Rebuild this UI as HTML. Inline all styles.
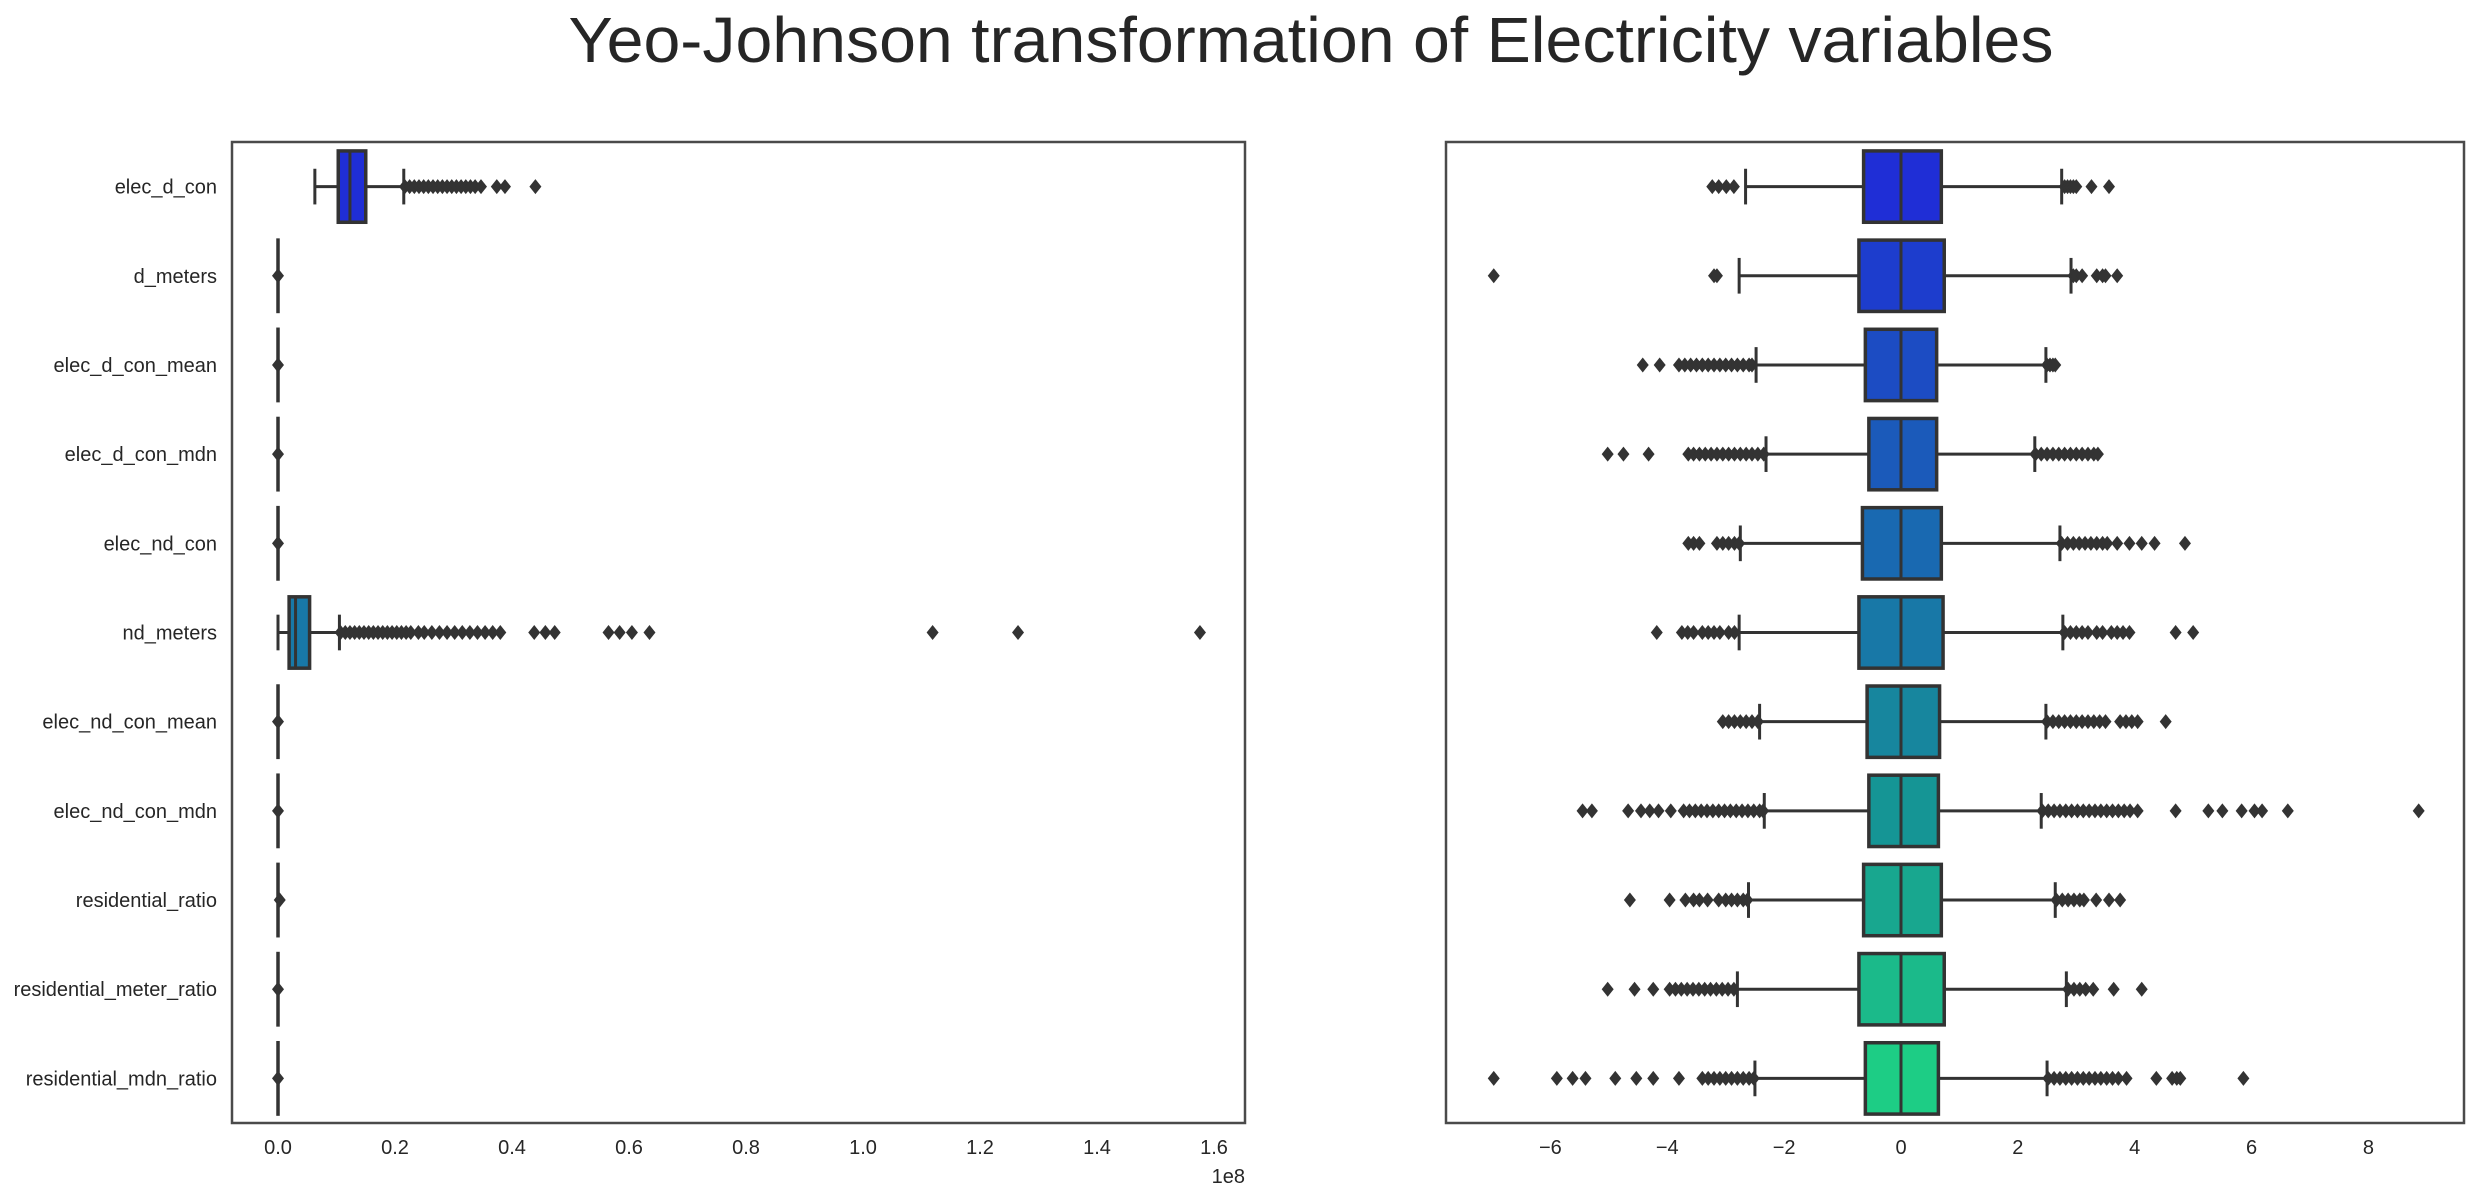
<!DOCTYPE html>
<html><head><meta charset="utf-8">
<style>
html,body{margin:0;padding:0;background:#fff;}
svg{display:block;font-family:"Liberation Sans",Arial,sans-serif;}
</style></head>
<body>
<svg id="fig" width="2478" height="1194" viewBox="0 0 2478 1194" xmlns="http://www.w3.org/2000/svg">
<rect x="0" y="0" width="2478" height="1194" fill="#fff"/>
<text x="1311" y="62" font-size="64" text-anchor="middle" fill="#262626" textLength="1485" lengthAdjust="spacingAndGlyphs">Yeo-Johnson transformation of Electricity variables</text>
<g id="left"></g>
<g id="right"></g>
</svg>
<script>
const categories = ["elec_d_con","d_meters","elec_d_con_mean","elec_d_con_mdn","elec_nd_con","nd_meters","elec_nd_con_mean","elec_nd_con_mdn","residential_ratio","residential_meter_ratio","residential_mdn_ratio"];

// Left panel (raw, units of 1e8): [whiskerLow, q1, median, q3, whiskerHigh]
const leftStats = [
  [0.063,0.103,0.123,0.150,0.215],
  [0,0,0,0,0],[0,0,0,0,0],[0,0,0,0,0],[0,0,0,0,0],
  [0,0.019,0.030,0.054,0.105],
  [0,0,0,0,0],[0,0,0,0,0],[0,0,0,0,0],[0,0,0,0,0],[0,0,0,0,0]
];
const leftOutliers = [
  [0.217,0.225,0.233,0.241,0.249,0.257,0.265,0.273,0.281,0.289,0.297,0.305,0.313,0.321,0.329,0.337,0.347,0.374,0.388,0.44],
  [0],[0],[0],[0],
  [0.107,0.115,0.123,0.131,0.139,0.147,0.155,0.163,0.171,0.179,0.187,0.195,0.203,0.211,0.219,0.227,0.24,0.25,0.263,0.276,0.289,0.302,0.315,0.328,0.341,0.354,0.367,0.38,0.438,0.457,0.473,0.565,0.584,0.605,0.635,1.119,1.265,1.576],
  [0],[0],[0.003],[0],[0]
];
const leftTicks = [0,0.2,0.4,0.6,0.8,1.0,1.2,1.4,1.6];
const leftTickLabels = ["0.0","0.2","0.4","0.6","0.8","1.0","1.2","1.4","1.6"];

// Right panel (Yeo-Johnson transformed)
const rightStats = [
  [-2.66,-0.64,0,0.69,2.75],
  [-2.77,-0.72,0,0.74,2.91],
  [-2.48,-0.61,0,0.61,2.48],
  [-2.31,-0.55,0,0.61,2.29],
  [-2.75,-0.66,0,0.69,2.72],
  [-2.77,-0.72,0,0.72,2.77],
  [-2.42,-0.58,0,0.66,2.48],
  [-2.34,-0.55,0,0.64,2.40],
  [-2.61,-0.64,0,0.69,2.64],
  [-2.80,-0.72,0,0.74,2.83],
  [-2.50,-0.61,0,0.64,2.50]
];
const rightOutliers = [
  [-3.23,-3.12,-2.99,-2.86,2.8,2.85,2.9,2.95,3.0,3.26,3.56],
  [-6.97,-3.2,-3.15,2.95,3.0,3.1,3.35,3.45,3.5,3.7],
  [-4.42,-4.13,-3.8,-3.7,-3.6,-3.5,-3.4,-3.3,-3.2,-3.1,-3.0,-2.9,-2.8,-2.7,-2.6,-2.55,2.5,2.55,2.6,2.64],
  [-5.02,-4.75,-4.32,-3.64,-3.55,-3.45,-3.35,-3.25,-3.15,-3.05,-2.95,-2.85,-2.75,-2.65,-2.55,-2.45,-2.35,2.3,2.4,2.5,2.6,2.7,2.8,2.9,3.0,3.1,3.2,3.3,3.37],
  [-3.64,-3.55,-3.45,-3.15,-3.05,-2.95,-2.85,-2.77,2.75,2.85,2.95,3.05,3.15,3.25,3.35,3.45,3.53,3.7,3.91,4.12,4.34,4.86],
  [-4.18,-3.75,-3.65,-3.55,-3.4,-3.3,-3.2,-3.1,-2.95,-2.85,2.8,2.9,3.0,3.1,3.2,3.35,3.45,3.6,3.7,3.8,3.91,4.7,5.0],
  [-3.05,-2.95,-2.85,-2.75,-2.65,-2.55,-2.45,2.5,2.6,2.7,2.8,2.9,3.0,3.1,3.2,3.3,3.4,3.5,3.75,3.85,3.95,4.05,4.53],
  [-5.45,-5.29,-4.67,-4.45,-4.3,-4.15,-3.94,-3.72,-3.62,-3.52,-3.42,-3.32,-3.22,-3.12,-3.02,-2.92,-2.82,-2.72,-2.62,-2.52,-2.42,-2.36,2.42,2.52,2.62,2.72,2.82,2.92,3.02,3.12,3.22,3.32,3.42,3.52,3.62,3.72,3.82,3.92,4.05,4.7,5.26,5.5,5.83,6.05,6.18,6.62,8.86],
  [-4.64,-3.96,-3.69,-3.55,-3.45,-3.31,-3.12,-3.0,-2.9,-2.8,-2.7,-2.63,2.66,2.76,2.86,2.96,3.06,3.13,3.34,3.56,3.75],
  [-5.02,-4.56,-4.24,-3.96,-3.86,-3.76,-3.66,-3.56,-3.46,-3.36,-3.26,-3.16,-3.06,-2.96,-2.86,2.86,2.96,3.06,3.16,3.29,3.64,4.12],
  [-6.97,-5.89,-5.62,-5.4,-4.89,-4.53,-4.24,-3.8,-3.4,-3.3,-3.2,-3.1,-3.0,-2.9,-2.8,-2.7,-2.6,-2.52,2.52,2.62,2.72,2.82,2.92,3.02,3.12,3.22,3.32,3.42,3.52,3.62,3.72,3.86,4.37,4.64,4.72,4.78,5.86]
];
const rightTicks = [-6,-4,-2,0,2,4,6,8];
const rightTickLabels = ["\u22126","\u22124","\u22122","0","2","4","6","8"];

const NS = "http://www.w3.org/2000/svg";
function mk(tag, attrs, parent){
  const e = document.createElementNS(NS, tag);
  for (const k in attrs) e.setAttribute(k, attrs[k]);
  parent.appendChild(e);
  return e;
}
function palette(i, n){
  const t = (i+1)/(n+1);
  let r=0, g=t, b=1-0.5*t;
  const mx=Math.max(r,g,b), mn=Math.min(r,g,b);
  let l=(mx+mn)/2, d=mx-mn, s=d===0?0:d/(1-Math.abs(2*l-1)), h;
  if (d===0) h=0; else if (mx===r) h=((g-b)/d)%6; else if (mx===g) h=(b-r)/d+2; else h=(r-g)/d+4;
  h*=60; if(h<0)h+=360;
  s*=0.75;
  const c=(1-Math.abs(2*l-1))*s, x=c*(1-Math.abs((h/60)%2-1)), m=l-c/2;
  let rr,gg,bb;
  if(h<60){rr=c;gg=x;bb=0;}else if(h<120){rr=x;gg=c;bb=0;}else if(h<180){rr=0;gg=c;bb=x;}
  else if(h<240){rr=0;gg=x;bb=c;}else if(h<300){rr=x;gg=0;bb=c;}else{rr=c;gg=0;bb=x;}
  return `rgb(${Math.round((rr+m)*255)},${Math.round((gg+m)*255)},${Math.round((bb+m)*255)})`;
}

const TOP=142, BOT=1123, ROWH=(BOT-TOP)/categories.length, BOXH=ROWH*0.8;
const LINE="#333333";
function yRow(i){ return TOP + ROWH*(i+0.5); }

function panel(g, x0, x1, xScale, stats, outs, ticks, tickLabels, showY, name){
  stats.forEach((s,i)=>{
    const cy=yRow(i), col=palette(i,categories.length);
    const bg = mk('g',{},g);
    
    
    const wl=xScale(s[0]), q1=xScale(s[1]), md=xScale(s[2]), q3=xScale(s[3]), wh=xScale(s[4]);
    mk('line',{x1:wl,x2:q1,y1:cy,y2:cy,stroke:LINE,'stroke-width':3},bg);
    mk('line',{x1:q3,x2:wh,y1:cy,y2:cy,stroke:LINE,'stroke-width':3},bg);
    mk('line',{x1:wl,x2:wl,y1:cy-BOXH/4,y2:cy+BOXH/4,stroke:LINE,'stroke-width':3},bg);
    mk('line',{x1:wh,x2:wh,y1:cy-BOXH/4,y2:cy+BOXH/4,stroke:LINE,'stroke-width':3},bg);
    mk('rect',{x:q1,y:cy-BOXH/2,width:Math.max(q3-q1,0.01),height:BOXH,fill:col,stroke:LINE,'stroke-width':3.5},bg);
    mk('line',{x1:md,x2:md,y1:cy-BOXH/2,y2:cy+BOXH/2,stroke:LINE,'stroke-width':3},bg);
    outs[i].forEach(v=>{
      const x=xScale(v);
      const p = mk('path',{d:`M${x} ${cy-7.5}L${x+6} ${cy}L${x} ${cy+7.5}L${x-6} ${cy}Z`,fill:LINE},bg);
      
      
    });
    if (showY){
      const t = mk('text',{x:217,y:cy+7,'font-size':20,'text-anchor':'end',fill:'#262626'},g);
      t.textContent = categories[i];
      
      
    }
  });
  ticks.forEach((v,k)=>{
    const t = mk('text',{x:xScale(v),y:1154,'font-size':20,'text-anchor':'middle',fill:'#262626'},g);
    t.textContent = tickLabels[k];
    
    
  });
  const fr = mk('rect',{x:x0,y:TOP,width:x1-x0,height:BOT-TOP,fill:'none',stroke:'#4a4a4a','stroke-width':2.5},g);
  
  
}

const xL = v => 278 + v*585;
const xR = v => 1901 + v*58.43;
panel(document.getElementById('left'), 232, 1245, xL, leftStats, leftOutliers, leftTicks, leftTickLabels, true, 'left');
panel(document.getElementById('right'), 1446, 2464, xR, rightStats, rightOutliers, rightTicks, rightTickLabels, false, 'right');

const off = mk('text',{x:1245,y:1183,'font-size':20,'text-anchor':'end',fill:'#262626'},document.getElementById('left'));
off.textContent = "1e8";


</script>
</body></html>
